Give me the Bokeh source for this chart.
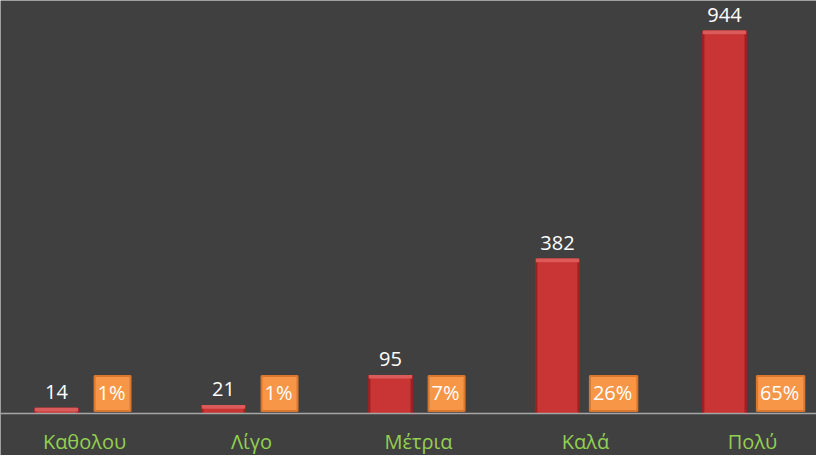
from bokeh.plotting import figure
from bokeh.models import Range1d, ColumnDataSource, Span
from bokeh.transform import dodge
from bokeh.core.properties import value
from bokeh.embed import file_html
from bokeh.resources import INLINE

categories = ["Καθολου", "Λίγο", "Μέτρια", "Καλά", "Πολύ"]
counts = [14, 21, 95, 382, 944]
percents = ["1%", "1%", "7%", "26%", "65%"]

BG = "#404040"
idx = list(range(len(categories)))
src = ColumnDataSource(dict(
    x=idx,
    cat=categories,
    cnt=counts,
    cap=[max(c - 9, 0) for c in counts],
    lbl=[str(c) for c in counts],
    pct=percents,
    zero=[0] * len(counts),
))

p = figure(width=816, height=455, x_range=Range1d(-0.503, 4.383),
           y_range=Range1d(-103.5, 1018), output_backend="svg", toolbar_location=None,
           min_border_left=0, min_border_right=0, min_border_top=0, min_border_bottom=0,
           background_fill_color=BG, border_fill_color=BG, outline_line_color=None)

p.xgrid.visible = False
p.ygrid.visible = False
p.xaxis.visible = False
p.yaxis.visible = False

p.add_layout(Span(location=0, dimension="width", line_color="#A6A6A6", line_width=1.5))

bx = dodge("x", -0.168)
# bar body with darker edges
p.vbar(x=bx, top="cnt", bottom=0, width=0.27, source=src, fill_color="#9A2222", line_color=None)
p.vbar(x=bx, top="cnt", bottom=0, width=0.24, source=src, fill_color="#C93434", line_color=None)
# lighter top rim
p.vbar(x=bx, top="cnt", bottom="cap", width=0.26, source=src, fill_color="#DB5A5A", line_color=None)

p.text(x=bx, y="cnt", text="lbl", source=src, text_align="center", text_baseline="bottom",
       y_offset=-9, text_color="white", text_font=value("Open Sans"), text_font_size="20px")

p.text(x=dodge("x", 0.168), y="zero", text="pct", source=src,
       text_align="center", text_baseline="middle", y_offset=-20,
       text_color="white", text_font=value("Open Sans"), text_font_size="20px",
       background_fill_color="#F79646", border_line_color="#D9772E", border_line_width=2,
       padding=[3, 5, 3, 5])

p.text(x="x", y="zero", text="cat", source=src, text_align="center", text_baseline="middle",
       y_offset=28, text_color="#92D050", text_font=value("Open Sans"), text_font_size="20px")

open("out.html", "w").write(file_html(p, INLINE))
